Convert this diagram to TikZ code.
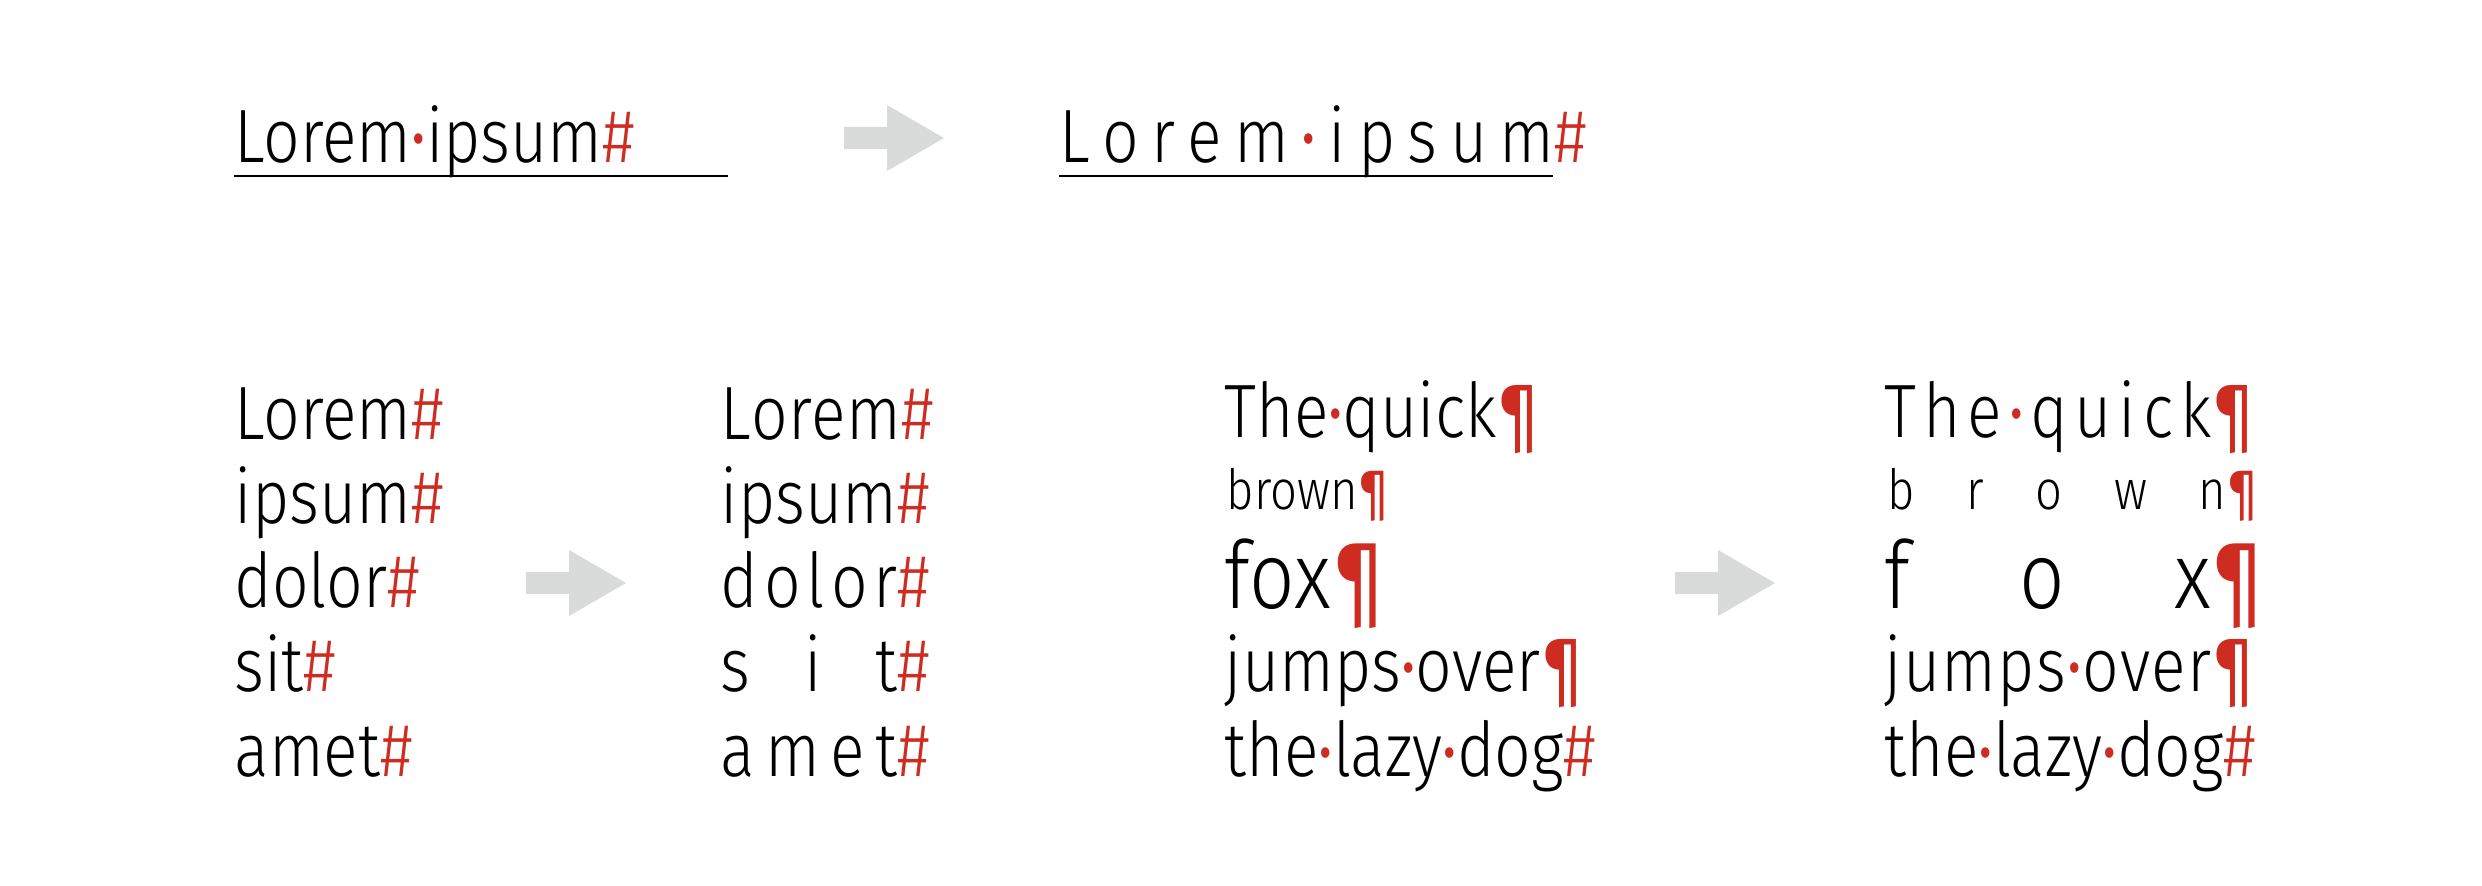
\documentclass[tikz,border=0pt]{standalone}
\usepackage{fontspec}
\usetikzlibrary{calc}
\newfontfamily\lightfont{Fira Sans Light}[FakeStretch=0.85]
\newfontfamily\pilfont{Fira Sans}[FakeStretch=0.8]
\definecolor{hred}{RGB}{206,44,32}
\definecolor{agray}{RGB}{217,219,218}
\newcommand{\rd}[1]{{\color{hred}#1}}
\newcommand{\dt}{\rd{\pilfont ·}}
\newcommand{\hs}{\rd{\#}}
\newcommand{\pil}{\rd{\pilfont ¶}}
\newcommand{\szn}{\fontsize{21.5pt}{21.5pt}\selectfont}
\newcommand{\szs}{\fontsize{15.8pt}{15.8pt}\selectfont}
\newcommand{\szl}{\fontsize{26.7pt}{26.7pt}\selectfont}
\newlength{\wA}
\newlength{\wB}
\newcommand{\blockarrow}[1]{%
  \fill[agray] (#1) ++(0,-11) -- ++(43,0) -- ++(0,-22) -- ++(57,33)
    -- ++(-57,33) -- ++(0,-22) -- ++(-43,0) -- cycle;}
\tikzset{
  txt/.style={anchor=base west, inner sep=0pt, font=\lightfont\szn},
  txts/.style={txt, font=\lightfont\szs},
  txtl/.style={txt, font=\lightfont\szl},
  uline/.style={line width=0.7pt, black}
}
\begin{document}
\settowidth{\wA}{\lightfont\szn Lorem\hs}%
\settowidth{\wB}{\lightfont\szn the\dt lazy\dt dog\hs}%
\begin{tikzpicture}[x=0.1mm,y=-0.1mm]
\useasboundingbox (0,0) rectangle (2482,886);
% top row
\node[txt] (tl) at (234,163) {Lorem\dt ipsum\hs};
\draw[uline] ($(tl.base west)+(0,13)$) coordinate (u1a) -- ++(494,0) coordinate (u1b);
\coordinate (a1) at (844,138);
\blockarrow{a1}
\node[txt] (tr) at (1059,163) {\makebox[52.7mm][s]{L\hfill o\hfill r\hfill e\hfill m\hfill\dt\hfill i\hfill p\hfill s\hfill u\hfill m\hs}};
\draw[uline] ($(tr.base west)+(0,13)$) coordinate (u2a) -- ++(494,0) coordinate (u2b);
% column 1
\node[txt] (c1a) at (234,440) {Lorem\hs};
\node[txt] (c1b) at (234,524) {ipsum\hs};
\node[txt] (c1c) at (234,608) {dolor\hs};
\node[txt] (c1d) at (234,692) {sit\hs};
\node[txt] (c1e) at (234,776) {amet\hs};
\coordinate (a2) at (526,583);
\blockarrow{a2}
% column 2
\node[txt] (c2a) at (720,440) {\makebox[\wA][s]{L\hfill o\hfill r\hfill e\hfill m\hs}};
\node[txt] (c2b) at (720,524) {\makebox[\wA][s]{i\hfill p\hfill s\hfill u\hfill m\hs}};
\node[txt] (c2c) at (720,608) {\makebox[\wA][s]{d\hfill o\hfill l\hfill o\hfill r\hs}};
\node[txt] (c2d) at (720,692) {\makebox[\wA][s]{s\hfill i\hfill t\hs}};
\node[txt] (c2e) at (720,776) {\makebox[\wA][s]{a\hfill m\hfill e\hfill t\hs}};
% column 3
\node[txt]  (c3a) at (1224,438) {The\dt quick\pil};
\node[txts] (c3b) at (1226,510) {brown\pil};
\node[txtl] (c3c) at (1224,609) {fox\pil};
\node[txt]  (c3d) at (1224,692) {jumps\dt over\pil};
\node[txt]  (c3e) at (1224,776) {the\dt lazy\dt dog\hs};
\coordinate (a3) at (1675,583);
\blockarrow{a3}
% column 4
\node[txt]  (c4a) at (1884,438) {\makebox[\wB][s]{T\hfill h\hfill e\hfill\dt\hfill q\hfill u\hfill i\hfill c\hfill k\pil}};
\node[txts] (c4b) at (1887,510) {\makebox[\wB][s]{b\hfill r\hfill o\hfill w\hfill n\pil}};
\node[txtl] (c4c) at (1884,609) {\makebox[\dimexpr\wB+1mm\relax][s]{f\hfill o\hfill x\pil}};
\node[txt]  (c4d) at (1884,692) {\makebox[\wB][s]{j\hfill u\hfill m\hfill p\hfill s\hfill\dt\hfill o\hfill v\hfill e\hfill r\pil}};
\node[txt]  (c4e) at (1884,776) {\makebox[\wB][s]{the\dt lazy\dt dog\hs}};
\end{tikzpicture}
\end{document}
